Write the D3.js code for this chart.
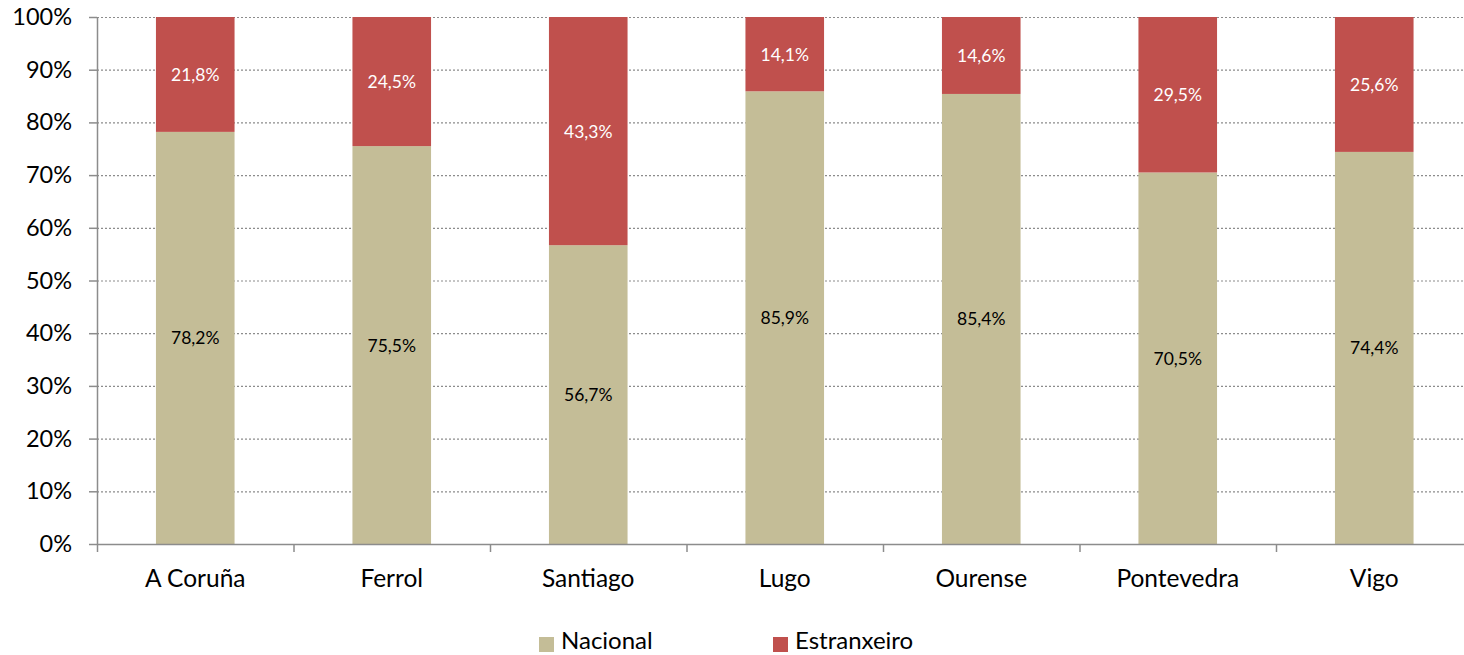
<!DOCTYPE html>
<html><head><meta charset="utf-8">
<script src="https://cdn.jsdelivr.net/npm/d3@7"></script>
<style>body{margin:0;background:#fff;} svg{display:block;font-family:Lato,"Open Sans",sans-serif;}</style>
</head><body><svg id="c" width="1464" height="655"></svg>
<script>
const categories = ["A Coruña","Ferrol","Santiago","Lugo","Ourense","Pontevedra","Vigo"];
const nacional = [78.2,75.5,56.7,85.9,85.4,70.5,74.4];
const estranxeiro = [21.8,24.5,43.3,14.1,14.6,29.5,25.6];
const seriesNames = ["Nacional","Estranxeiro"];
const colors = ["#C4BD97","#C0504D"];
const yTicks = [0,10,20,30,40,50,60,70,80,90,100];

(function(){
const svg = d3.select("#c");
const pL = 97, pR = 1472.5, pT = 17, pB = 544;
const x = d3.scaleBand().domain(categories).range([pL,pR]).paddingInner(0.6).paddingOuter(0.3);
const xb = d3.scaleBand().domain(categories).range([pL,pR]);
const y = d3.scaleLinear().domain([0,100]).range([pB,pT]);
const fmt = v => v.toFixed(1).replace(".", ",") + "%";

svg.append("g").selectAll("line").data(yTicks.filter(d=>d>0)).join("line")
  .attr("x1",pL).attr("x2",pR).attr("y1",d=>y(d)+0.5).attr("y2",d=>y(d)+0.5)
  .attr("stroke","#8c8c8c").attr("stroke-width",1.2).attr("stroke-dasharray","2,2");

const data = categories.map((c,i)=>({c, n:nacional[i], e:estranxeiro[i]}));
const g = svg.append("g");
g.selectAll("rect.n").data(data).join("rect").attr("class","n")
  .attr("x",d=>x(d.c)).attr("width",x.bandwidth())
  .attr("y",d=>y(d.n)).attr("height",d=>y(0)-y(d.n)).attr("fill",colors[0]);
g.selectAll("rect.e").data(data).join("rect").attr("class","e")
  .attr("x",d=>x(d.c)).attr("width",x.bandwidth())
  .attr("y",d=>y(d.n+d.e)).attr("height",d=>y(d.n)-y(d.n+d.e)).attr("fill",colors[1]);
g.selectAll("text.n").data(data).join("text").attr("class","n")
  .attr("x",d=>x(d.c)+x.bandwidth()/2).attr("y",d=>y(d.n/2))
  .attr("text-anchor","middle").attr("dominant-baseline","central")
  .attr("font-size",17.5).attr("fill","#000").text(d=>fmt(d.n));
g.selectAll("text.e").data(data).join("text").attr("class","e")
  .attr("x",d=>x(d.c)+x.bandwidth()/2).attr("y",d=>y(d.n+d.e/2))
  .attr("text-anchor","middle").attr("dominant-baseline","central")
  .attr("font-size",17.5).attr("fill","#fff").text(d=>fmt(d.e));

const ya = svg.append("g").attr("transform",`translate(${pL},0)`)
  .call(d3.axisLeft(y).tickValues(yTicks).tickSize(8).tickPadding(17).tickFormat(d=>d+"%"));
ya.select(".domain").attr("stroke","#8c8c8c").attr("stroke-width",1.5).attr("d",`M0.5,${pT}V${pB}`);
ya.selectAll(".tick line").attr("stroke","#8c8c8c").attr("stroke-width",1.5);
ya.selectAll(".tick text").attr("font-size",23.5).attr("fill","#000").attr("font-family","Lato,'Open Sans',sans-serif");

const xa = svg.append("g").attr("transform",`translate(0,${pB})`);
xa.append("line").attr("x1",pL).attr("x2",pR).attr("y1",0.5).attr("y2",0.5).attr("stroke","#8c8c8c").attr("stroke-width",1.5);
xa.selectAll("line.t").data(d3.range(categories.length+1)).join("line").attr("class","t")
  .attr("x1",i=>pL+i*xb.step()+0.5).attr("x2",i=>pL+i*xb.step()+0.5).attr("y1",0).attr("y2",8)
  .attr("stroke","#8c8c8c").attr("stroke-width",1.5);
xa.selectAll("text").data(categories).join("text")
  .attr("x",d=>xb(d)+xb.bandwidth()/2).attr("y",43)
  .attr("text-anchor","middle").attr("font-size",24.5).attr("fill","#000").text(d=>d);

const legX = [539,773];
const lg = svg.append("g");
seriesNames.forEach((s,i)=>{
  lg.append("rect").attr("x",legX[i]).attr("y",637).attr("width",15).attr("height",15).attr("fill",colors[i]);
  lg.append("text").attr("x",legX[i]+22).attr("y",649).attr("font-size",24).attr("fill","#000").text(s);
});
})();
</script></body></html>
